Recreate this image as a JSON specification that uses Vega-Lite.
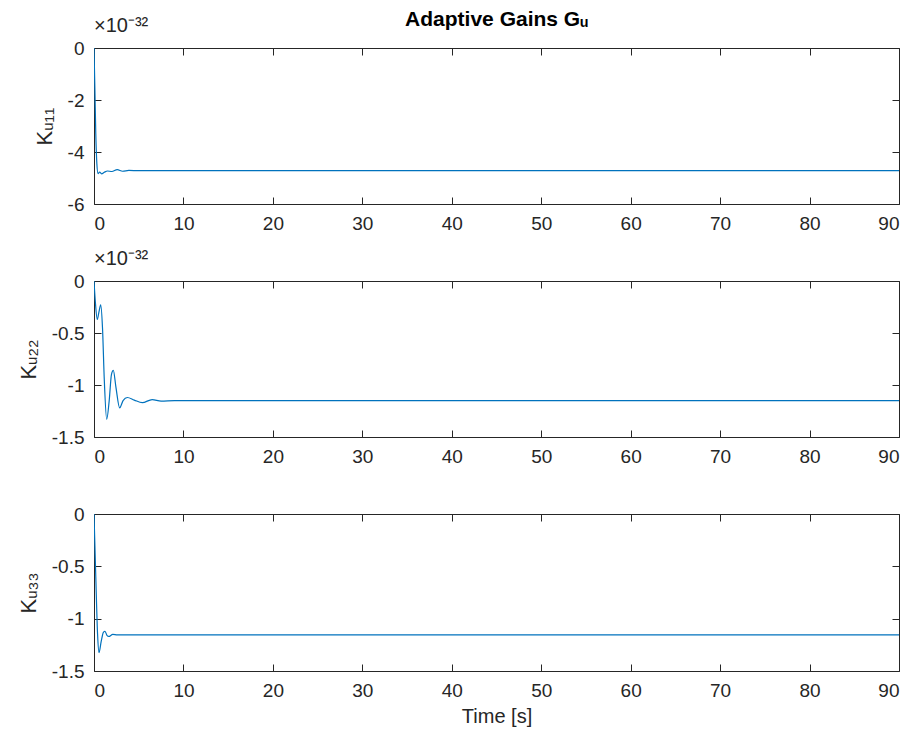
{
  "$schema": "https://vega.github.io/schema/vega-lite/v6.json",
  "background": "white",
  "padding": {"left": 16, "top": 8, "right": 10, "bottom": 5},
  "title": {
    "text": "Adaptive Gains Gᵤ",
    "anchor": "middle",
    "frame": "group",
    "font": "Liberation Sans",
    "fontSize": 21,
    "fontWeight": "bold",
    "color": "#000000",
    "offset": -14
  },
  "datasets": {
    "k11": [
      {"t": 0, "k": 0},
      {"t": 0.1, "k": -1.6},
      {"t": 0.2, "k": -3.3},
      {"t": 0.32, "k": -4.45},
      {"t": 0.45, "k": -4.83},
      {"t": 0.62, "k": -4.77},
      {"t": 0.85, "k": -4.84},
      {"t": 1.15, "k": -4.78},
      {"t": 1.5, "k": -4.73},
      {"t": 2.0, "k": -4.75},
      {"t": 2.6, "k": -4.68},
      {"t": 3.2, "k": -4.74},
      {"t": 3.9, "k": -4.71},
      {"t": 5.0, "k": -4.72},
      {"t": 90, "k": -4.72}
    ],
    "k22": [
      {"t": 0, "k": 0},
      {"t": 0.15, "k": -0.2},
      {"t": 0.37, "k": -0.37},
      {"t": 0.55, "k": -0.3},
      {"t": 0.75, "k": -0.23},
      {"t": 0.95, "k": -0.45},
      {"t": 1.15, "k": -0.95},
      {"t": 1.42, "k": -1.33},
      {"t": 1.7, "k": -1.15},
      {"t": 1.95, "k": -0.9},
      {"t": 2.16, "k": -0.86},
      {"t": 2.45, "k": -1.02},
      {"t": 2.87, "k": -1.22},
      {"t": 3.25, "k": -1.15},
      {"t": 3.73, "k": -1.12},
      {"t": 4.5, "k": -1.145},
      {"t": 5.4, "k": -1.17},
      {"t": 6.5, "k": -1.14},
      {"t": 7.5, "k": -1.155},
      {"t": 9.0, "k": -1.15},
      {"t": 90, "k": -1.15}
    ],
    "k33": [
      {"t": 0, "k": 0},
      {"t": 0.2, "k": -0.6},
      {"t": 0.4, "k": -1.15},
      {"t": 0.56, "k": -1.325},
      {"t": 0.8, "k": -1.22},
      {"t": 1.05, "k": -1.13},
      {"t": 1.23, "k": -1.12},
      {"t": 1.45, "k": -1.16},
      {"t": 1.65, "k": -1.17},
      {"t": 2.1, "k": -1.15},
      {"t": 2.6, "k": -1.155},
      {"t": 90, "k": -1.155}
    ]
  },
  "spacing": 77,
  "bounds": "flush",
  "vconcat": [
    {
      "width": 805,
      "height": 156,
      "title": {"text": "×10⁻³²", "style": "exponent"},
      "data": {"name": "k11"},
      "layer": [
        {
          "mark": {"type": "line", "color": "#0072BD", "strokeWidth": 1.2, "interpolate": "monotone", "clip": true},
          "encoding": {
            "x": {"field": "t", "type": "quantitative", "scale": {"domain": [0, 90], "nice": false},
                  "axis": {"orient": "bottom", "values": [0, 10, 20, 30, 40, 50, 60, 70, 80, 90], "title": null}},
            "y": {"field": "k", "type": "quantitative", "scale": {"domain": [-6, 0], "nice": false, "zero": false},
                  "axis": {"orient": "left", "values": [-6, -4, -2, 0], "title": "Kᵤ₁₁"}}
          }
        },
        {
          "mark": {"type": "line", "opacity": 0},
          "encoding": {
            "x": {"field": "t", "type": "quantitative",
                  "axis": {"orient": "top", "values": [0, 10, 20, 30, 40, 50, 60, 70, 80, 90], "labels": false, "title": null}},
            "y": {"field": "k", "type": "quantitative",
                  "axis": {"orient": "right", "values": [-6, -4, -2, 0], "labels": false, "title": null}}
          }
        }
      ],
      "resolve": {"axis": {"x": "independent", "y": "independent"}}
    },
    {
      "width": 805,
      "height": 156,
      "title": {"text": "×10⁻³²", "style": "exponent"},
      "data": {"name": "k22"},
      "layer": [
        {
          "mark": {"type": "line", "color": "#0072BD", "strokeWidth": 1.2, "interpolate": "monotone", "clip": true},
          "encoding": {
            "x": {"field": "t", "type": "quantitative", "scale": {"domain": [0, 90], "nice": false},
                  "axis": {"orient": "bottom", "values": [0, 10, 20, 30, 40, 50, 60, 70, 80, 90], "title": null}},
            "y": {"field": "k", "type": "quantitative", "scale": {"domain": [-1.5, 0], "nice": false, "zero": false},
                  "axis": {"orient": "left", "values": [-1.5, -1, -0.5, 0], "title": "Kᵤ₂₂"}}
          }
        },
        {
          "mark": {"type": "line", "opacity": 0},
          "encoding": {
            "x": {"field": "t", "type": "quantitative",
                  "axis": {"orient": "top", "values": [0, 10, 20, 30, 40, 50, 60, 70, 80, 90], "labels": false, "title": null}},
            "y": {"field": "k", "type": "quantitative",
                  "axis": {"orient": "right", "values": [-1.5, -1, -0.5, 0], "labels": false, "title": null}}
          }
        }
      ],
      "resolve": {"axis": {"x": "independent", "y": "independent"}}
    },
    {
      "width": 805,
      "height": 157,
      "data": {"name": "k33"},
      "layer": [
        {
          "mark": {"type": "line", "color": "#0072BD", "strokeWidth": 1.2, "interpolate": "monotone", "clip": true},
          "encoding": {
            "x": {"field": "t", "type": "quantitative", "scale": {"domain": [0, 90], "nice": false},
                  "axis": {"orient": "bottom", "values": [0, 10, 20, 30, 40, 50, 60, 70, 80, 90], "title": "Time [s]", "titlePadding": 6}},
            "y": {"field": "k", "type": "quantitative", "scale": {"domain": [-1.5, 0], "nice": false, "zero": false},
                  "axis": {"orient": "left", "values": [-1.5, -1, -0.5, 0], "title": "Kᵤ₃₃"}}
          }
        },
        {
          "mark": {"type": "line", "opacity": 0},
          "encoding": {
            "x": {"field": "t", "type": "quantitative",
                  "axis": {"orient": "top", "values": [0, 10, 20, 30, 40, 50, 60, 70, 80, 90], "labels": false, "title": null}},
            "y": {"field": "k", "type": "quantitative",
                  "axis": {"orient": "right", "values": [-1.5, -1, -0.5, 0], "labels": false, "title": null}}
          }
        }
      ],
      "resolve": {"axis": {"x": "independent", "y": "independent"}}
    }
  ],
  "config": {
    "view": {"stroke": "#262626", "strokeWidth": 1},
    "style": {
      "exponent": {"font": "Liberation Sans", "fontSize": 20, "fontWeight": "normal", "fill": "#262626", "color": "#262626"},
      "group-title": {"font": "Liberation Sans", "fontSize": 20, "fontWeight": "normal"}
    },
    "title": {
      "anchor": "start",
      "frame": "group",
      "font": "Liberation Sans",
      "fontSize": 20,
      "fontWeight": "normal",
      "color": "#262626",
      "offset": 3
    },
    "axis": {
      "domain": false,
      "grid": false,
      "ticks": true,
      "tickSize": -7,
      "tickColor": "#262626",
      "tickWidth": 1,
      "zindex": 1,
      "labelFont": "Liberation Sans",
      "labelFontSize": 19,
      "labelColor": "#262626",
      "labelExpr": "'' + datum.value",
      "titleFont": "Liberation Sans",
      "titleFontSize": 20,
      "titleFontWeight": "normal",
      "titleColor": "#262626"
    },
    "axisX": {"labelPadding": 17},
    "axisY": {"labelPadding": 17, "titlePadding": 11, "titleFontSize": 22}
  }
}
